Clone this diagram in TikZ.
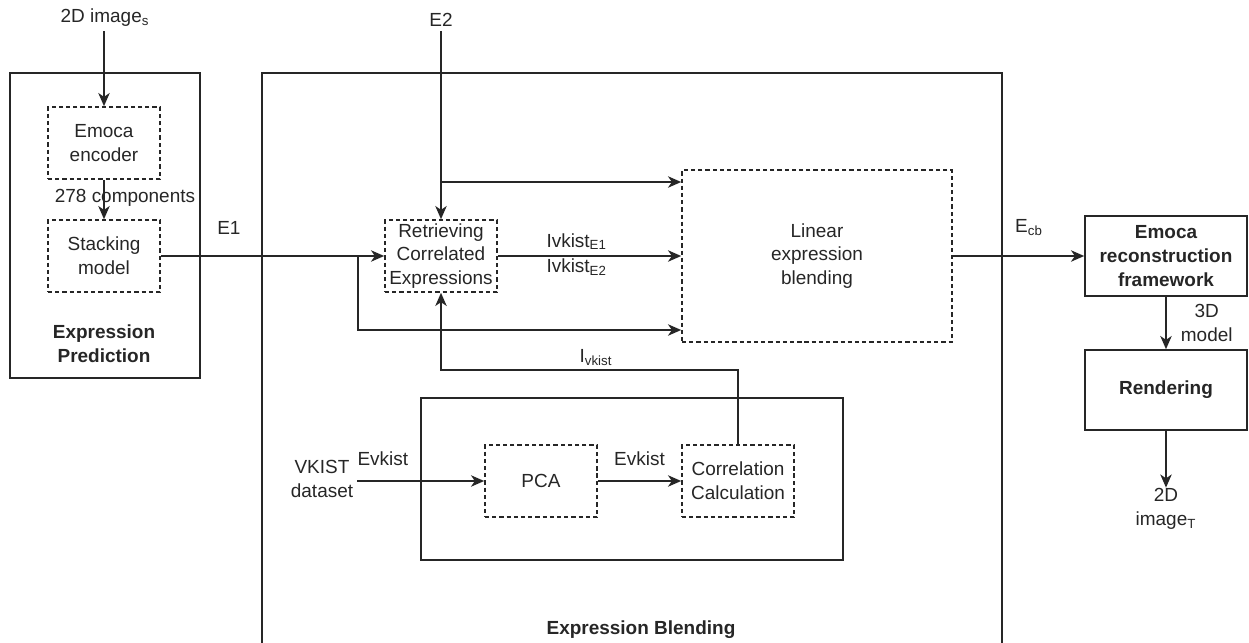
\documentclass[tikz,border=0pt]{standalone}
\usepackage{fontspec}
\setmainfont{Liberation Sans}
\usetikzlibrary{arrows, arrows.meta}
\usetikzlibrary{calc, positioning}

\begin{document}
\begin{tikzpicture}[x = 0.02cm, y = -0.02cm, black!85, line width = 0.95pt,
    font = \fontsize{10.8}{13.6}\selectfont,
    arrow/.style = {-{Stealth[length=7.5pt, width=6.5pt, inset=2.2pt]}},
    dashbox/.style = {draw, dash pattern=on 2.4pt off 1.7pt, align=center, inner sep=0pt},
    solidbox/.style = {draw, align=center, inner sep=0pt, font=\fontsize{10.8}{13.6}\selectfont\bfseries},
    lbl/.style = {align=center, inner sep=2pt}]

    \useasboundingbox (0,0) rectangle (1249,643);

    % outer frames
    \draw (10,73) rectangle (200,378);
    \draw (262,73) rectangle (1002,680);
    \draw (421,398) rectangle (843,560);

    \node[lbl, font=\fontsize{10.8}{13.6}\selectfont\bfseries] (predtitle) at (104,344) {Expression\\Prediction};
    \node[lbl, font=\fontsize{10.8}{13.6}\selectfont\bfseries] (blendtitle) at (641,630) {Expression Blending};

    % expression prediction
    \node[lbl] (imgS) at (105,18) {2D image\textsubscript{s}};
    \node[dashbox, minimum width=2.24cm, minimum height=1.44cm] (enc) at (104,143) {Emoca\\encoder};
    \node[dashbox, minimum width=2.24cm, minimum height=1.44cm] (stack) at (104,256) {Stacking\\model};

    \draw[arrow] (imgS.south -| enc.north) -- (enc);
    \draw[arrow] (enc) -- (stack) node[lbl, pos=0.45, xshift=0.42cm] {278 components};

    % expression blending
    \node[lbl] (e2) at (441,20) {E2};
    \node[dashbox, minimum width=2.24cm, minimum height=1.44cm] (retr) at (441,256) {Retrieving\\Correlated\\Expressions};
    \node[dashbox, minimum width=5.4cm, minimum height=3.44cm] (lin) at (817,256) {Linear\\expression\\blending};
    \node[dashbox, minimum width=2.24cm, minimum height=1.44cm] (pca) at (541,481) {PCA};
    \node[dashbox, minimum width=2.24cm, minimum height=1.44cm] (corr) at (738,481) {Correlation\\Calculation};
    \node[lbl] (vkist) at (322,479) {VKIST\\dataset};

    \coordinate (j1) at (358,256);
    \coordinate (j2) at (441,182);
    \coordinate (low) at (0,330);
    \coordinate (fb) at (596,370);

    \draw[arrow] (stack) -- (retr) node[lbl, pos=0.305, above=10pt] {E1};
    \draw[arrow] (e2) -- (retr);
    \draw[arrow] (j2) -- (j2 -| lin.west);
    \draw[arrow] (j1) |- (lin.west |- low);
    \draw[arrow] (retr.east) -- (retr.east -| lin.west)
        node[lbl, pos=0.43, above=1pt] {Ivkist\textsubscript{E1}}
        node[lbl, pos=0.43, below=-1pt] {Ivkist\textsubscript{E2}};
    \draw[arrow] (corr.north) |- (fb) node[lbl, above, pos=1] {I\textsubscript{vkist}} -| (retr.south);
    \draw[arrow] (vkist.east |- pca.west) -- (pca.west) node[lbl, pos=0.2, above=6pt] {Evkist};
    \draw[arrow] (pca) -- (corr) node[lbl, midway, above=6pt] {Evkist};

    % reconstruction
    \node[solidbox, minimum width=3.24cm, minimum height=1.6cm] (recon) at (1166,256) {Emoca\\reconstruction\\framework};
    \node[solidbox, minimum width=3.24cm, minimum height=1.6cm] (rend) at (1166,390) {Rendering};
    \node[lbl, inner sep=0pt] (imgT) at (1166,509) {2D\\image\textsubscript{T}};

    \draw[arrow] (lin) -- (recon) node[lbl, pos=0.58, above=9pt] {E\textsubscript{cb}};
    \draw[arrow] (recon) -- (rend) node[lbl, midway, right=6pt] {3D\\model};
    \draw[arrow] (rend) -- (imgT.north);

\end{tikzpicture}
\end{document}
